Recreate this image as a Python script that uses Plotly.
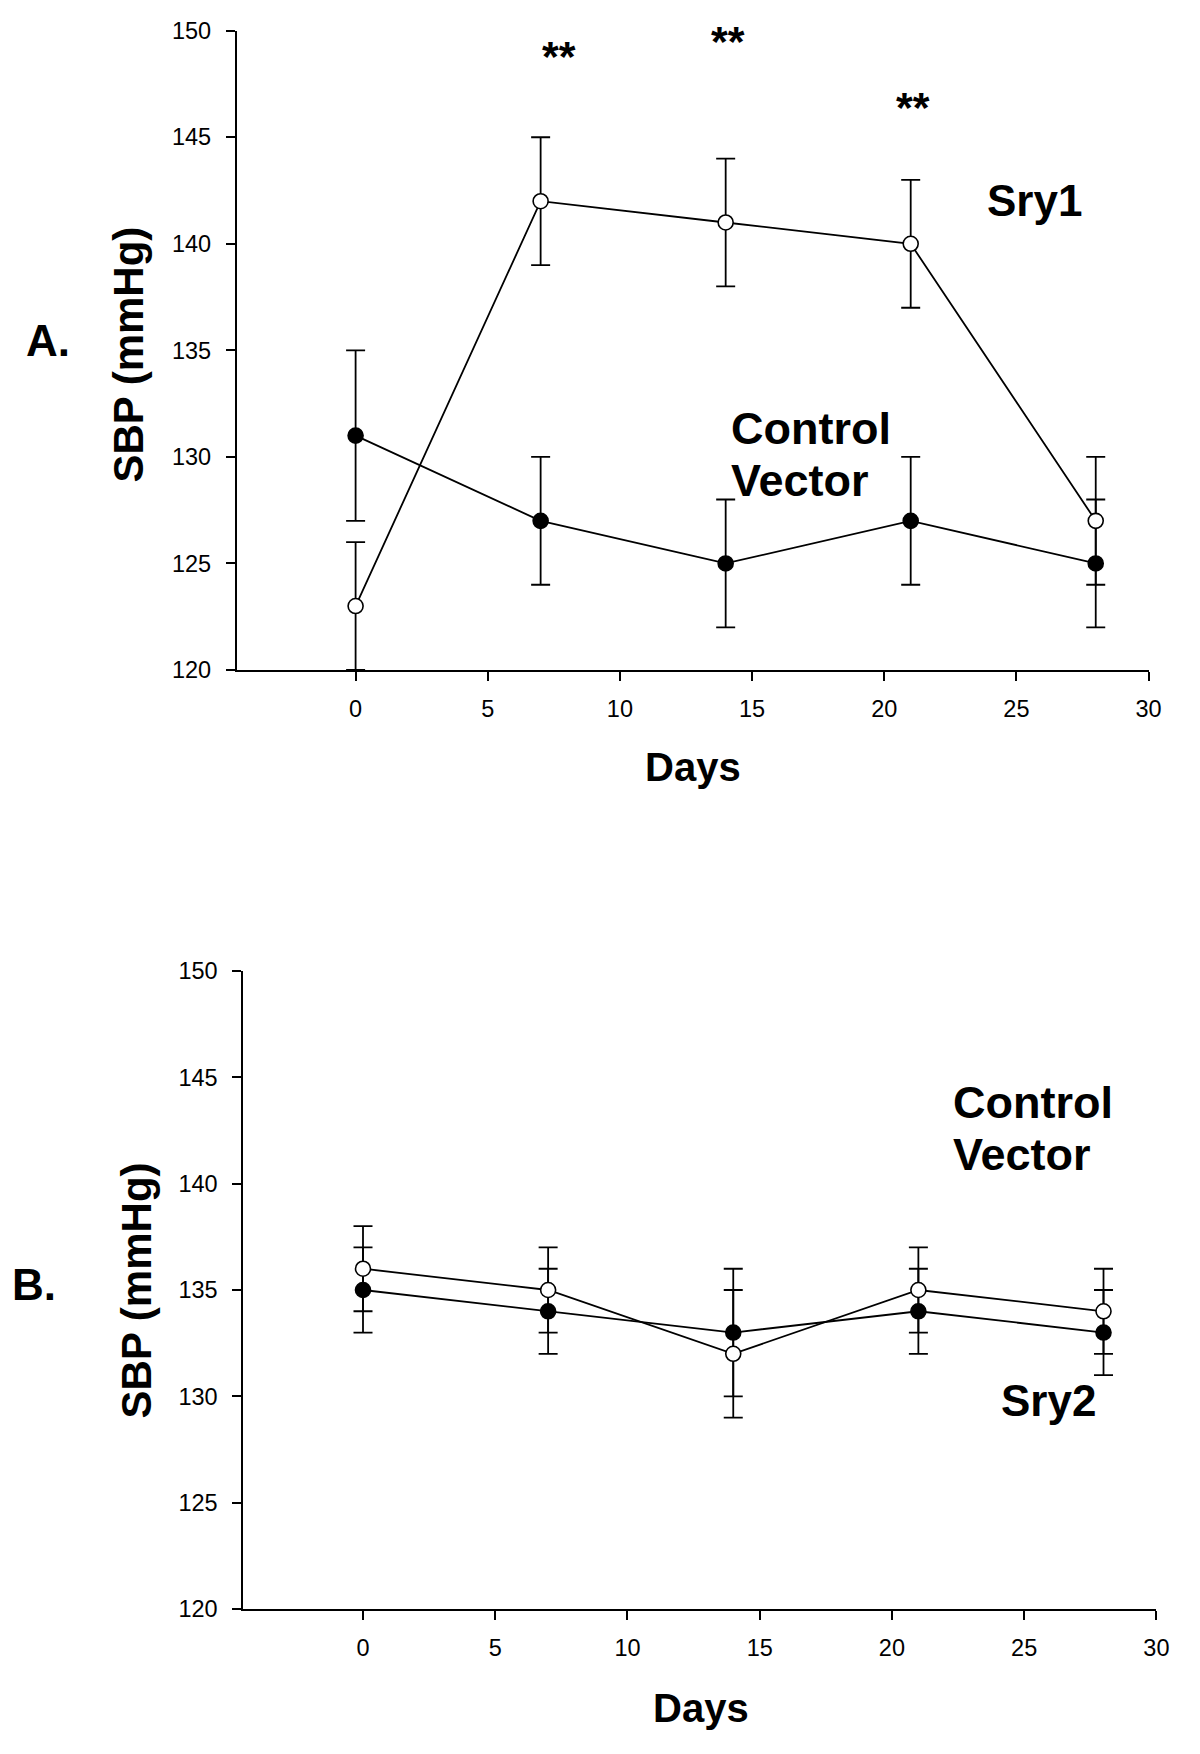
import plotly.graph_objects as go

# ---- data ----
days = [0, 7, 14, 21, 28]

a_sry1 = [123, 142, 141, 140, 127]
a_sry1_err = [3, 3, 3, 3, 3]
a_ctrl = [131, 127, 125, 127, 125]
a_ctrl_err = [4, 3, 3, 3, 3]

b_open = [136, 135, 132, 135, 134]
b_open_err = [2, 2, 3, 2, 2]
b_filled = [135, 134, 133, 134, 133]
b_filled_err = [2, 2, 3, 2, 2]

y_ticks = [120, 125, 130, 135, 140, 145, 150]
x_ticks = [0, 5, 10, 15, 20, 25, 30]

star_x = [7.7, 14.1, 21.1]
star_y = [148.83, 149.53, 146.43]

FONT = "Liberation Sans, Arial, Helvetica, sans-serif"
OFF = 8                      # page body margin
W, H = 1200 - OFF, 1754 - OFF


def px2paper_x(px):
    return (px - OFF) / W


def px2paper_y(py):
    return 1 - (py - OFF) / H


fig = go.Figure()


def add_series(x, y, err, filled, xa, ya):
    fig.add_trace(go.Scatter(
        x=x, y=y, mode="lines+markers", xaxis=xa, yaxis=ya,
        line=dict(color="black", width=1.8),
        marker=dict(size=15, color="black" if filled else "white",
                    line=dict(color="black", width=1.6)),
        error_y=dict(type="data", array=err, visible=True, color="black",
                     thickness=1.8, width=9.5),
        cliponaxis=False, showlegend=False, hoverinfo="skip",
    ))


add_series(days, a_ctrl, a_ctrl_err, True, "x", "y")
add_series(days, a_sry1, a_sry1_err, False, "x", "y")
add_series(days, b_filled, b_filled_err, True, "x2", "y2")
add_series(days, b_open, b_open_err, False, "x2", "y2")

axis_common = dict(
    showline=True, linecolor="black", linewidth=1.8, mirror=False,
    ticks="outside", ticklen=9, tickwidth=1.8, tickcolor="black",
    showgrid=False, zeroline=False, automargin=False,
    tickfont=dict(family=FONT, size=23.5, color="black"),
)

fig.update_layout(
    template="none",
    width=W, height=H,
    margin=dict(l=0, r=0, t=0, b=0, pad=0),
    paper_bgcolor="white", plot_bgcolor="white",
    xaxis=dict(domain=[px2paper_x(236.7), px2paper_x(1148.6)], range=[-4.498, 30],
               tickvals=x_ticks, anchor="y", ticklabelstandoff=8, **axis_common),
    yaxis=dict(domain=[px2paper_y(670), px2paper_y(30.7)], range=[120, 150],
               tickvals=y_ticks, anchor="x", ticklabelstandoff=10, **axis_common),
    xaxis2=dict(domain=[px2paper_x(243.3), px2paper_x(1156.4)], range=[-4.526, 30],
                tickvals=x_ticks, anchor="y2", ticklabelstandoff=8, **axis_common),
    yaxis2=dict(domain=[px2paper_y(1609), px2paper_y(971)], range=[120, 150],
                tickvals=y_ticks, anchor="x2", ticklabelstandoff=10, **axis_common),
)

annotations = []


def txt(text, x, y, size, xanchor="center", yanchor="middle", angle=0):
    annotations.append(dict(
        text=text, x=px2paper_x(x), y=px2paper_y(y), xref="paper", yref="paper",
        xanchor=xanchor, yanchor=yanchor, showarrow=False, textangle=angle,
        font=dict(family=FONT, size=size, color="black"),
    ))


# panel labels
txt("<b>A.</b>", 47.5, 340, 44)
txt("<b>B.</b>", 34, 1284, 44)

# axis titles
txt("<b>SBP (mmHg)</b>", 128.6, 355, 42, angle=-90)
txt("<b>SBP (mmHg)</b>", 136.4, 1290, 42, angle=-90)
txt("<b>Days</b>", 693.4, 767, 40)
txt("<b>Days</b>", 701, 1708, 40)

# series labels
txt("<b>Sry1</b>", 1034, 200, 44)
txt("<b>Control</b>", 729, 428, 45, xanchor="left")
txt("<b>Vector</b>", 729, 481, 45, xanchor="left")
txt("<b>Control</b>", 951, 1102, 45, xanchor="left")
txt("<b>Vector</b>", 951, 1154, 45, xanchor="left")
txt("<b>Sry2</b>", 1048.5, 1400, 44)

# significance stars
for sx, sy in zip(star_x, star_y):
    annotations.append(dict(
        text="<b>**</b>", x=sx, y=sy, xref="x", yref="y",
        xanchor="center", yanchor="middle", showarrow=False,
        font=dict(family=FONT, size=43, color="black"),
    ))

fig.update_layout(annotations=annotations)

fig.write_html("out.html")
